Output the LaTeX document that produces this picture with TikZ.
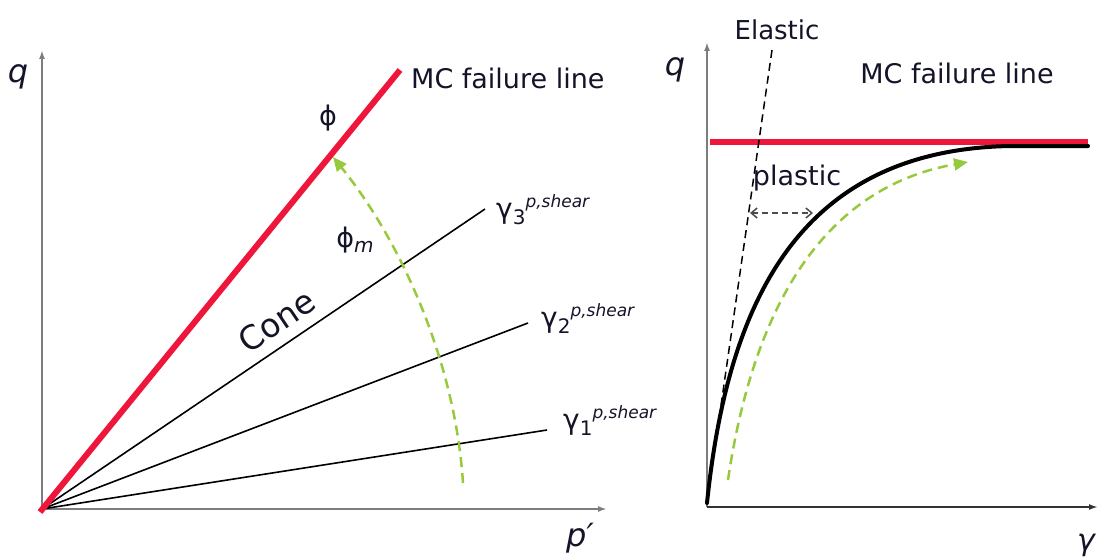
\documentclass[tikz,border=0pt]{standalone}
\usepackage{fontspec}
\setmainfont{DejaVu Sans}
\usetikzlibrary{arrows.meta}
\definecolor{mcred}{RGB}{238,22,58}
\definecolor{grn}{RGB}{150,202,60}
\definecolor{axgray}{RGB}{125,125,125}
\definecolor{txt}{RGB}{20,20,40}
\newcommand{\fs}[1]{\fontsize{#1}{#1}\selectfont}
\newcommand{\gammalab}[1]{{\fs{28}γ}{\fs{20}\raisebox{-6pt}{#1}}{\fs{17}\itshape\raisebox{11pt}{p,shear}}}
\begin{document}
\begin{tikzpicture}[x=1pt,y=-1pt,
  axis/.style={draw=axgray,line width=2pt,-{Latex[length=9pt,width=6pt]}},
  axisdark/.style={draw=black!80,line width=2.5pt,-{Latex[length=9pt,width=6pt]}},
  redline/.style={draw=mcred,line width=6pt},
  ray/.style={draw=black,line width=1.6pt},
  curveline/.style={draw=black,line width=4pt,line cap=round},
  grnarrow/.style={draw=grn,line width=2.5pt,dash pattern=on 10pt off 6pt,-{Triangle[length=14pt,width=12pt]}},
  elasticline/.style={draw=black,line width=1.5pt,dash pattern=on 8pt off 5pt},
  plasticarrow/.style={draw=black!70,line width=1.5pt,dash pattern=on 6pt off 4pt,{Straight Barb[length=6pt,width=10pt]}-{Straight Barb[length=6pt,width=10pt]}},
  lab/.style={text=txt,inner sep=0pt}]
\useasboundingbox (0,0) rectangle (1099,559);

% ---------- left diagram ----------
\coordinate (O1) at (42,509);
\coordinate (Y1) at (42,50);
\coordinate (X1) at (607,509);
\coordinate (R0) at (40,512);
\coordinate (R1) at (400,70);
\coordinate (G3) at (485,209);
\coordinate (G2) at (528,323);
\coordinate (G1) at (547,430);
\coordinate (A0) at (463,483);
\coordinate (A1) at (333,157);

\draw[axis] (O1) -- (Y1);
\draw[axis] (O1) -- (X1);
\draw[ray] (O1) -- (G3);
\draw[ray] (O1) -- (G2);
\draw[ray] (O1) -- (G1);
\draw[redline] (R0) -- (R1);
\draw[grnarrow] (A0) .. controls (455,360) and (400,240) .. (A1);

\node[lab,font=\fs{32}\itshape] (ql) at (18,77) {q};
\node[lab,font=\fs{32}\itshape] (pl) at (580,538) {p′};
\node[lab,font=\fs{27},anchor=west] (mcl) at (411,78) {MC failure line};
\node[lab,font=\fs{27}] (phi) at (328,118) {ϕ};
\node[lab,font=\fs{27}] (phim) at (355,240) {ϕ{\fs{20}\itshape\raisebox{-5pt}{m}}};
\node[lab,font=\fs{33},rotate=34] (cone) at (277,321) {Cone};
\node[lab,anchor=west] (g3) at (496,210) {\gammalab{3}};
\node[lab,anchor=west] (g2) at (541,319) {\gammalab{2}};
\node[lab,anchor=west] (g1) at (563,421) {\gammalab{1}};

% ---------- right diagram ----------
\coordinate (O2) at (707,507);
\coordinate (Y2) at (707,42);
\coordinate (X2) at (1098,507);
\coordinate (M0) at (710,142);
\coordinate (M1) at (1088,142);
\coordinate (C0) at (707,503);
\coordinate (C1) at (1010,146);
\coordinate (C2) at (1088,146);
\coordinate (E0) at (772,50);
\coordinate (P0) at (750,213);
\coordinate (P1) at (813,213);
\coordinate (B0) at (728,480);
\coordinate (B1) at (968,162);

\draw[axis] (O2) -- (Y2);
\draw[axisdark] (O2) -- (X2);
\draw[redline] (M0) -- (M1);
\draw[elasticline] (E0) -- (C0);
\draw[curveline] (C0) .. controls (728,300) and (800,150) .. (C1) -- (C2);
\draw[plasticarrow] (P0) -- (P1);
\draw[grnarrow] (B0) .. controls (750,330) and (810,190) .. (B1);

\node[lab,font=\fs{26}] (el) at (777,30) {Elastic};
\node[lab,font=\fs{32}\itshape] (qr) at (675,70) {q};
\node[lab,font=\fs{27}] (mcr) at (957,73) {MC failure line};
\node[lab,font=\fs{27}] (pla) at (797,178) {plastic};
\node[lab,font=\fs{30}\itshape] (gr) at (1086,545) {γ};
\end{tikzpicture}
\end{document}
